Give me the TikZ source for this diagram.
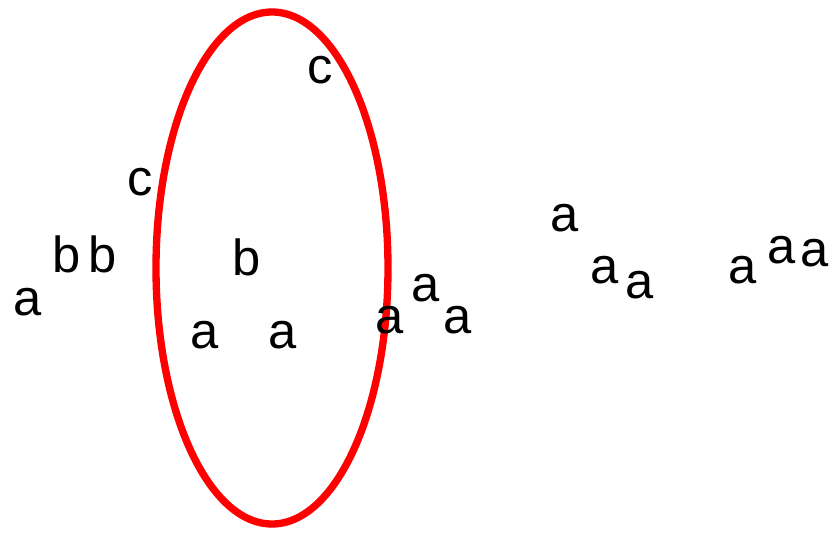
\documentclass[tikz,border=0pt]{standalone}
\usepackage{fontspec}
\setmainfont{Liberation Sans}
\definecolor{RingRed}{RGB}{255,0,0}
\usetikzlibrary{positioning}

\begin{document}
\begin{tikzpicture}[
    x=0.75pt, y=-0.75pt,
    sym/.style={inner sep=0pt, font=\fontsize{38}{42}\selectfont},
    ring/.style={draw=RingRed, line width=5.5pt}
]
    \useasboundingbox (0,0) rectangle (836,533);
    % the ring
    \draw[ring] (272,268) ellipse [x radius=116, y radius=256];
    % letters inside and on the ring
    \node[sym] (c1) at (320,70)  {c};
    \node[sym] (c2) at (140,182) {c};
    \node[sym] (b3) at (247,257) {b};
    \node[sym] (a4) at (205,335) {a};
    \node[sym] (a5) at (283,335) {a};
    \node[sym] (a6) at (390,320) {a};
    % left group
    \node[sym] (a1) at (28,302)  {a};
    \node[sym] (b1) at (67,254)  {b};
    \node[sym] (b2) at (103,254) {b};
    % right groups
    \node[sym] (a7)  at (426,288) {a};
    \node[sym] (a8)  at (458,320) {a};
    \node[sym] (a9)  at (565,218) {a};
    \node[sym] (a10) at (605,270) {a};
    \node[sym] (a11) at (640,285) {a};
    \node[sym] (a12) at (743,270) {a};
    \node[sym] (a13) at (782,250) {a};
    \node[sym] (a14) at (815,253) {a};
\end{tikzpicture}
\end{document}
